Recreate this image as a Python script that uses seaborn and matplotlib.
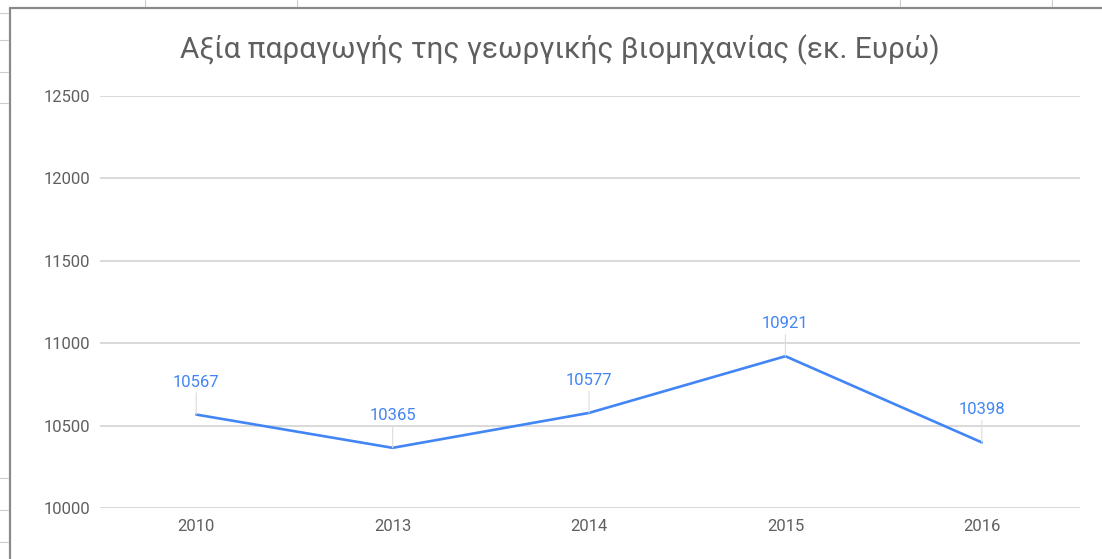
import pandas as pd
import seaborn as sns
import matplotlib.pyplot as plt
from matplotlib.lines import Line2D

## data
years = ['2010', '2013', '2014', '2015', '2016']
values = [10567, 10365, 10577, 10921, 10398]
y_ticks = [10000, 10500, 11000, 11500, 12000, 12500]

title = 'Αξία παραγωγής της γεωργικής βιομηχανίας (εκ. Ευρώ)'

df = pd.DataFrame({'year': years, 'value': values})

sns.set_style('white')
plt.rcParams['font.family'] = ['Roboto', 'DejaVu Sans']

W, H = 1102, 559
fig = plt.figure(figsize=(W / 100, H / 100), dpi=100)
ax = fig.add_axes([100 / W, 1 - 508 / H, 980 / W, 412 / H])

blue = '#4285f4'
grid = '#d0d0d0'
txt = '#5f5f5f'

sns.lineplot(data=df, x='year', y='value', ax=ax, color=blue, linewidth=1.9,
             sort=False, zorder=3)

# data labels with thin leader lines
for i, v in enumerate(values):
	ax.annotate(str(v), xy=(i, v), xytext=(0, 18), textcoords='offset points',
				ha='center', va='bottom', color=blue, fontsize=12,
				arrowprops=dict(arrowstyle='-', color='#dddddd', lw=0.8,
								shrinkA=0, shrinkB=0))

ax.set_ylim(10000, 12500)
ax.set_xlim(-0.49, 4.5)
ax.set_yticks(y_ticks)
ax.yaxis.grid(True, color=grid, linewidth=1.1)
ax.set_axisbelow(True)
for s in ax.spines.values():
	s.set_visible(False)
ax.tick_params(axis='both', length=0, labelsize=12, labelcolor=txt)
ax.tick_params(axis='y', pad=7)
ax.tick_params(axis='x', pad=8)
ax.set_xlabel('')
ax.set_ylabel('')

fig.text(560 / W, 1 - 50 / H, title, ha='center', va='center',
		 fontsize=21.4, color=txt)

# spreadsheet frame around the chart
def fx(x):
	return x / W

def fy(y):
	return 1 - y / H

fig.add_artist(Line2D([fx(10), fx(10)], [fy(8), fy(559)], color='#8a8a8a', lw=1.6))
fig.add_artist(Line2D([fx(10), fx(1102)], [fy(8), fy(8)], color='#8a8a8a', lw=1.6))
for y in [13, 40, 72, 103, 478, 510, 542]:
	fig.add_artist(Line2D([fx(0), fx(8)], [fy(y), fy(y)], color='#cccccc', lw=0.8))
for x in [145, 297, 900, 1052]:
	fig.add_artist(Line2D([fx(x), fx(x)], [fy(0), fy(6)], color='#cccccc', lw=0.8))

fig.savefig('out.png', dpi=100)
